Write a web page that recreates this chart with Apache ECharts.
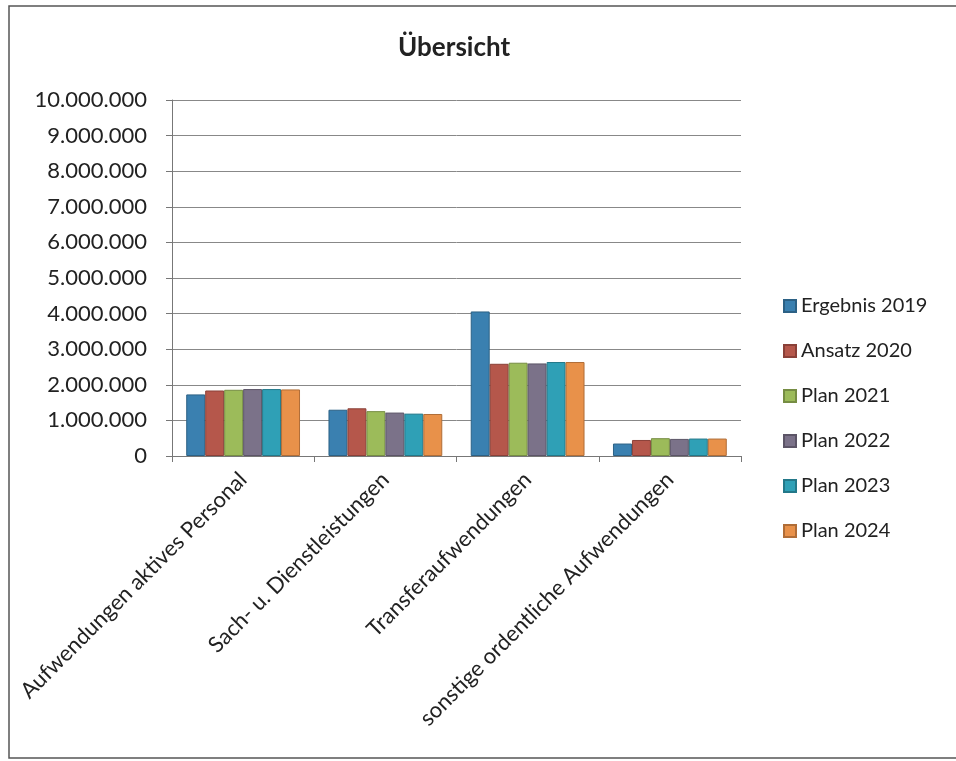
<!DOCTYPE html>
<html>
<head>
<meta charset="utf-8">
<script src="https://cdn.jsdelivr.net/npm/echarts@6/dist/echarts.min.js"></script>
<style>
html,body{margin:0;padding:0;background:#fff;}
#chart{width:956px;height:761px;}
</style>
</head>
<body>
<div id="chart"></div>
<script>
const categories = ['Aufwendungen aktives Personal', 'Sach- u. Dienstleistungen', 'Transferaufwendungen', 'sonstige ordentliche Aufwendungen'];
const seriesNames = ['Ergebnis 2019', 'Ansatz 2020', 'Plan 2021', 'Plan 2022', 'Plan 2023', 'Plan 2024'];
const ergebnis2019 = [1730000, 1300000, 4060000, 350000];
const ansatz2020   = [1840000, 1340000, 2590000, 450000];
const plan2021     = [1860000, 1260000, 2620000, 500000];
const plan2022     = [1880000, 1220000, 2600000, 480000];
const plan2023     = [1880000, 1190000, 2640000, 490000];
const plan2024     = [1870000, 1180000, 2640000, 490000];
const yTicks = [0, 1000000, 2000000, 3000000, 4000000, 5000000, 6000000, 7000000, 8000000, 9000000, 10000000];

const colors = ['#3a80b0', '#b5574b', '#9cbb5a', '#7b7289', '#2fa0b6', '#e8914a'];
const borders = ['#2c6185', '#8a4038', '#768d43', '#5c5567', '#237889', '#b06d37'];
const allData = [ergebnis2019, ansatz2020, plan2021, plan2022, plan2023, plan2024];

function fmt(v){ return String(Math.round(v)).replace(/\B(?=(\d{3})+(?!\d))/g, '.'); }

const chart = echarts.init(document.getElementById('chart'), null, {renderer:'canvas'});
const FONT = 'Lato';
chart.setOption({
  backgroundColor: '#fff',
  animation: false,
  title: {
    text: 'Übersicht',
    left: 393,
    top: 30,
    textStyle: {fontFamily: FONT, fontSize: 26, fontWeight: 'bold', color: '#222'}
  },
  graphic: [{
    type: 'rect',
    shape: {x: 9, y: 6, width: 970, height: 752},
    style: {fill: 'none', stroke: '#555', lineWidth: 1.5},
    silent: true
  }],
  legend: {
    orient: 'vertical',
    left: 778,
    top: 291,
    itemWidth: 12,
    itemHeight: 12,
    itemGap: 25,
    icon: 'rect',
    data: seriesNames,
    textStyle: {fontFamily: FONT, fontSize: 20, lineHeight: 20, color: '#222', padding: [0,0,0,0]}
  },
  grid: {left: 172, right: 215, top: 100, bottom: 305, containLabel: false},
  xAxis: {
    type: 'category',
    data: categories,
    boundaryGap: true,
    axisLine: {lineStyle: {color: '#777', width: 1}},
    axisTick: {show: true, length: 6, lineStyle: {color: '#777'}},
    axisLabel: {rotate: 45, margin: 20, fontFamily: FONT, fontSize: 22, color: '#222', interval: 0}
  },
  yAxis: {
    type: 'value',
    min: yTicks[0],
    max: yTicks[yTicks.length - 1],
    interval: 1000000,
    axisLine: {show: true, lineStyle: {color: '#777', width: 1}},
    axisTick: {show: true, length: 6, lineStyle: {color: '#777'}},
    splitLine: {lineStyle: {color: '#888', width: 1}},
    axisLabel: {margin: 25, fontFamily: FONT, fontSize: 22, color: '#222', formatter: fmt}
  },
  series: seriesNames.map((n, i) => ({
    name: n,
    type: 'bar',
    data: allData[i],
    barGap: '0%',
    barCategoryGap: '20%',
    itemStyle: {color: colors[i], borderColor: borders[i], borderWidth: 1}
  }))
});
</script>
</body>
</html>
